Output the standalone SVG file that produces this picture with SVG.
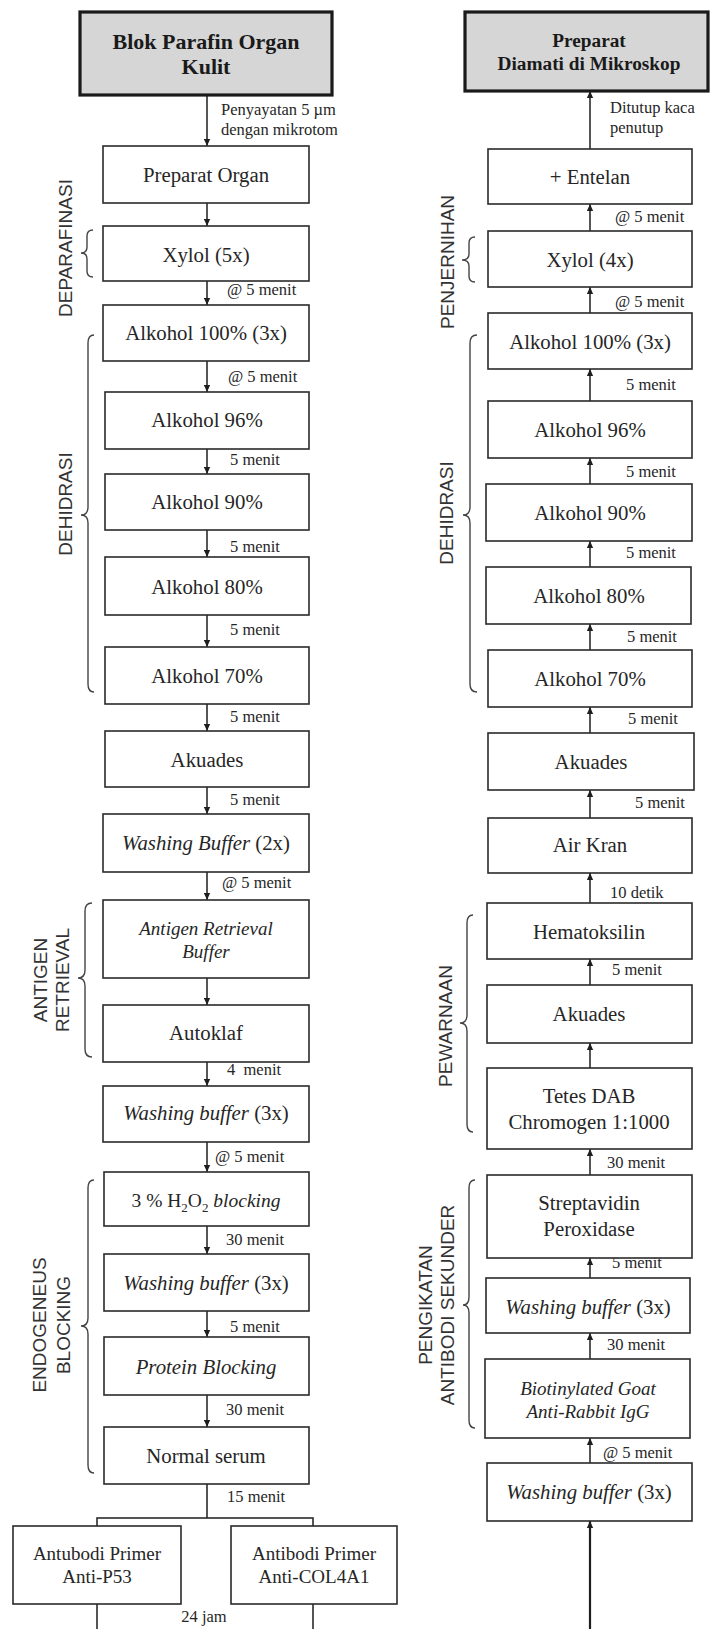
<svg xmlns="http://www.w3.org/2000/svg" width="710" height="1629" viewBox="0 0 710 1629">
<defs>
<style>
.bx{fill:#fff;stroke:#2a2a2a;stroke-width:1.6}
.hd{fill:#d6d6d6;stroke:#1a1a1a;stroke-width:3.2}
.t{font-family:"Liberation Serif","Times New Roman",serif;font-size:20.8px;fill:#262626;text-anchor:middle}
.tb{font-family:"Liberation Serif","Times New Roman",serif;font-size:20px;font-weight:bold;fill:#1a1a1a;text-anchor:middle}
.ti{font-family:"Liberation Serif","Times New Roman",serif;font-size:19px;font-style:italic;fill:#262626;text-anchor:middle}
.s{font-family:"Liberation Serif","Times New Roman",serif;font-size:16.5px;fill:#262626}
.v{font-family:"Liberation Sans",Arial,sans-serif;font-size:19px;fill:#333;text-anchor:middle}
.ln{stroke:#1e1e1e;stroke-width:1.5;fill:none}
.br{stroke:#444;stroke-width:1.4;fill:none}
</style>
<marker id="ah" viewBox="0 0 10 10" refX="10" refY="5" markerWidth="8" markerHeight="7" markerUnits="userSpaceOnUse" orient="auto"><path d="M0,0.5 L10,5 L0,9.5 z" fill="#1e1e1e"/></marker>
</defs>
<rect width="710" height="1629" fill="#fff"/>

<g id="connectors">
<g class="ln" marker-end="url(#ah)">
<line x1="207" y1="95" x2="207" y2="146"/>
<line x1="207" y1="203" x2="207" y2="226"/>
<line x1="207" y1="281" x2="207" y2="305"/>
<line x1="207" y1="361" x2="207" y2="392"/>
<line x1="207" y1="449" x2="207" y2="474"/>
<line x1="207" y1="530" x2="207" y2="557"/>
<line x1="207" y1="615" x2="207" y2="647"/>
<line x1="207" y1="704" x2="207" y2="731"/>
<line x1="207" y1="787" x2="207" y2="814"/>
<line x1="207" y1="872" x2="207" y2="900"/>
<line x1="207" y1="978" x2="207" y2="1005"/>
<line x1="207" y1="1062" x2="207" y2="1086"/>
<line x1="207" y1="1142" x2="207" y2="1172"/>
<line x1="207" y1="1226" x2="207" y2="1254"/>
<line x1="207" y1="1311" x2="207" y2="1337"/>
<line x1="207" y1="1395" x2="207" y2="1427"/>
<line x1="590" y1="149" x2="590" y2="91"/>
<line x1="590" y1="231" x2="590" y2="204"/>
<line x1="590" y1="313" x2="590" y2="287"/>
<line x1="590" y1="401" x2="590" y2="369"/>
<line x1="590" y1="484" x2="590" y2="458"/>
<line x1="590" y1="567" x2="590" y2="541"/>
<line x1="590" y1="650" x2="590" y2="624"/>
<line x1="590" y1="733" x2="590" y2="707"/>
<line x1="590" y1="818" x2="590" y2="790"/>
<line x1="590" y1="903" x2="590" y2="873"/>
<line x1="590" y1="985" x2="590" y2="959"/>
<line x1="590" y1="1068" x2="590" y2="1043"/>
<line x1="590" y1="1175" x2="590" y2="1149"/>
<line x1="590" y1="1278" x2="590" y2="1258"/>
<line x1="590" y1="1359" x2="590" y2="1333"/>
<line x1="590" y1="1463" x2="590" y2="1438"/>
<line x1="590" y1="1629" x2="590" y2="1521" stroke-width="2.2"/>
</g>
<path class="ln" d="M207,1484 V1518 M97,1526 V1518 H313 V1526 M97,1604 V1629 M313,1604 V1629"/>
</g>

<g id="braces" class="br">
<path d="M93,230 Q87,230 87,236 L87,247 Q87,253 81,253 Q87,253 87,259 L87,271 Q87,277 93,277"/>
<path d="M94,335 Q88,335 88,343 L88,507 Q88,515 81,515 Q88,515 88,523 L88,684 Q88,692 94,692"/>
<path d="M92,903 Q85,903 85,911 L85,970 Q85,978 78,978 Q85,978 85,986 L85,1049 Q85,1057 92,1057"/>
<path d="M94,1180 Q88,1180 88,1188 L88,1318 Q88,1326 81,1326 Q88,1326 88,1334 L88,1465 Q88,1473 94,1473"/>
<path d="M475,237 Q469,237 469,243 L469,254 Q469,260 462,260 Q469,260 469,266 L469,276 Q469,282 475,282"/>
<path d="M477,335 Q470,335 470,343 L470,507 Q470,515 463,515 Q470,515 470,523 L470,684 Q470,692 477,692"/>
<path d="M473,915 Q467,915 467,923 L467,1015 Q467,1023 460,1023 Q467,1023 467,1031 L467,1124 Q467,1132 473,1132"/>
<path d="M475,1180 Q469,1180 469,1188 L469,1297 Q469,1305 463,1305 Q469,1305 469,1313 L469,1420 Q469,1428 475,1428"/>
</g>

<g id="side-labels" class="v">
<text transform="translate(72,248) rotate(-90)">DEPARAFINASI</text>
<text transform="translate(72,504) rotate(-90)">DEHIDRASI</text>
<text transform="translate(47,980) rotate(-90)">ANTIGEN</text>
<text transform="translate(69,980) rotate(-90)">RETRIEVAL</text>
<text transform="translate(46,1325) rotate(-90)">ENDOGENEUS</text>
<text transform="translate(70,1325) rotate(-90)">BLOCKING</text>
<text transform="translate(454,262) rotate(-90)">PENJERNIHAN</text>
<text transform="translate(453,513) rotate(-90)">DEHIDRASI</text>
<text transform="translate(452,1026) rotate(-90)">PEWARNAAN</text>
<text transform="translate(432,1305) rotate(-90)">PENGIKATAN</text>
<text transform="translate(454,1305) rotate(-90)">ANTIBODI SEKUNDER</text>
</g>

<g id="edge-labels" class="s">
<text x="221" y="115">Penyayatan 5 µm</text>
<text x="221" y="135">dengan mikrotom</text>
<text x="227" y="295">@ 5 menit</text>
<text x="228" y="382">@ 5 menit</text>
<text x="230" y="465">5 menit</text>
<text x="230" y="552">5 menit</text>
<text x="230" y="635">5 menit</text>
<text x="230" y="722">5 menit</text>
<text x="230" y="805">5 menit</text>
<text x="222" y="888">@ 5 menit</text>
<text x="227" y="1075" xml:space="preserve">4  menit</text>
<text x="215" y="1162">@ 5 menit</text>
<text x="226" y="1245">30 menit</text>
<text x="230" y="1332">5 menit</text>
<text x="226" y="1415">30 menit</text>
<text x="227" y="1502">15 menit</text>
<text x="204" y="1622" style="text-anchor:middle">24 jam</text>
<text x="610" y="113">Ditutup kaca</text>
<text x="610" y="133">penutup</text>
<text x="615" y="222">@ 5 menit</text>
<text x="615" y="307">@ 5 menit</text>
<text x="626" y="390">5 menit</text>
<text x="626" y="477">5 menit</text>
<text x="626" y="558">5 menit</text>
<text x="627" y="642">5 menit</text>
<text x="628" y="724">5 menit</text>
<text x="635" y="808">5 menit</text>
<text x="610" y="898">10 detik</text>
<text x="612" y="975">5 menit</text>
<text x="607" y="1168">30 menit</text>
<text x="612" y="1268">5 menit</text>
<text x="607" y="1350">30 menit</text>
<text x="603" y="1458">@ 5 menit</text>
</g>

<g id="n-blok"><rect class="hd" x="80" y="12" width="252" height="83"/><text class="tb" x="206" y="49" style="font-size:22px">Blok Parafin Organ</text><text class="tb" x="206" y="74" style="font-size:22px">Kulit</text></g>
<g id="n-preparat-organ"><rect class="bx" x="103" y="146" width="206" height="57"/><text class="t" x="206" y="182">Preparat Organ</text></g>
<g id="n-xylol5"><rect class="bx" x="103" y="226" width="206" height="55"/><text class="t" x="206" y="262">Xylol (5x)</text></g>
<g id="n-alk100"><rect class="bx" x="103" y="305" width="206" height="56"/><text class="t" x="206" y="340">Alkohol 100% (3x)</text></g>
<g id="n-alk96"><rect class="bx" x="105" y="392" width="204" height="57"/><text class="t" x="207" y="427">Alkohol 96%</text></g>
<g id="n-alk90"><rect class="bx" x="105" y="474" width="204" height="56"/><text class="t" x="207" y="509">Alkohol 90%</text></g>
<g id="n-alk80"><rect class="bx" x="105" y="557" width="204" height="58"/><text class="t" x="207" y="594">Alkohol 80%</text></g>
<g id="n-alk70"><rect class="bx" x="105" y="647" width="204" height="57"/><text class="t" x="207" y="683">Alkohol 70%</text></g>
<g id="n-akuades"><rect class="bx" x="105" y="731" width="204" height="56"/><text class="t" x="207" y="767">Akuades</text></g>
<g id="n-wb2"><rect class="bx" x="103" y="814" width="206" height="58"/><text class="t" x="206" y="850"><tspan font-style="italic">Washing Buffer</tspan> (2x)</text></g>
<g id="n-arb"><rect class="bx" x="103" y="900" width="206" height="78"/><text class="ti" x="206" y="935">Antigen Retrieval</text><text class="ti" x="206" y="958">Buffer</text></g>
<g id="n-autoklaf"><rect class="bx" x="103" y="1005" width="206" height="57"/><text class="t" x="206" y="1040">Autoklaf</text></g>
<g id="n-wb3a"><rect class="bx" x="103" y="1086" width="206" height="56"/><text class="t" x="206" y="1120"><tspan font-style="italic">Washing buffer</tspan> (3x)</text></g>
<g id="n-h2o2"><rect class="bx" x="104" y="1172" width="205" height="54"/><text class="t" x="206" y="1207" style="font-size:19.5px">3 % H<tspan font-size="13" dy="5">2</tspan><tspan dy="-5">O</tspan><tspan font-size="13" dy="5">2</tspan><tspan dy="-5" font-style="italic"> blocking</tspan></text></g>
<g id="n-wb3b"><rect class="bx" x="104" y="1254" width="205" height="57"/><text class="t" x="206" y="1290"><tspan font-style="italic">Washing buffer</tspan> (3x)</text></g>
<g id="n-protein"><rect class="bx" x="104" y="1337" width="205" height="58"/><text class="t" x="206" y="1374" style="font-style:italic">Protein Blocking</text></g>
<g id="n-normal"><rect class="bx" x="104" y="1427" width="205" height="57"/><text class="t" x="206" y="1463">Normal serum</text></g>
<g id="n-p53"><rect class="bx" x="13" y="1526" width="168" height="78"/><text class="t" x="97" y="1560" style="font-size:19px">Antubodi Primer</text><text class="t" x="97" y="1583" style="font-size:19px">Anti-P53</text></g>
<g id="n-col4a1"><rect class="bx" x="231" y="1526" width="166" height="78"/><text class="t" x="314" y="1560" style="font-size:19px">Antibodi Primer</text><text class="t" x="314" y="1583" style="font-size:19px">Anti-COL4A1</text></g>

<g id="n-mikroskop"><rect class="hd" x="465" y="12" width="243" height="79"/><text class="tb" x="589" y="47" style="font-size:19.3px">Preparat</text><text class="tb" x="589" y="70" style="font-size:19.3px">Diamati di Mikroskop</text></g>
<g id="n-entelan"><rect class="bx" x="488" y="149" width="204" height="55"/><text class="t" x="590" y="184">+ Entelan</text></g>
<g id="n-xylol4"><rect class="bx" x="488" y="231" width="204" height="56"/><text class="t" x="590" y="267">Xylol (4x)</text></g>
<g id="n-alk100r"><rect class="bx" x="488" y="313" width="204" height="56"/><text class="t" x="590" y="349">Alkohol 100% (3x)</text></g>
<g id="n-alk96r"><rect class="bx" x="488" y="401" width="204" height="57"/><text class="t" x="590" y="437">Alkohol 96%</text></g>
<g id="n-alk90r"><rect class="bx" x="486" y="484" width="206" height="57"/><text class="t" x="590" y="520">Alkohol 90%</text></g>
<g id="n-alk80r"><rect class="bx" x="486" y="567" width="205" height="57"/><text class="t" x="589" y="603">Alkohol 80%</text></g>
<g id="n-alk70r"><rect class="bx" x="488" y="650" width="204" height="57"/><text class="t" x="590" y="686">Alkohol 70%</text></g>
<g id="n-akuadesr"><rect class="bx" x="488" y="733" width="206" height="57"/><text class="t" x="591" y="769">Akuades</text></g>
<g id="n-airkran"><rect class="bx" x="488" y="818" width="204" height="55"/><text class="t" x="590" y="852">Air Kran</text></g>
<g id="n-hemato"><rect class="bx" x="487" y="903" width="205" height="56"/><text class="t" x="589" y="939">Hematoksilin</text></g>
<g id="n-akuades2"><rect class="bx" x="487" y="985" width="205" height="58"/><text class="t" x="589" y="1021">Akuades</text></g>
<g id="n-dab"><rect class="bx" x="487" y="1068" width="205" height="81"/><text class="t" x="589" y="1103">Tetes DAB</text><text class="t" x="589" y="1129">Chromogen 1:1000</text></g>
<g id="n-strep"><rect class="bx" x="487" y="1175" width="205" height="83"/><text class="t" x="589" y="1210">Streptavidin</text><text class="t" x="589" y="1236">Peroxidase</text></g>
<g id="n-wb3r1"><rect class="bx" x="486" y="1278" width="204" height="55"/><text class="t" x="588" y="1314"><tspan font-style="italic">Washing buffer</tspan> (3x)</text></g>
<g id="n-biot"><rect class="bx" x="485" y="1359" width="205" height="79"/><text class="ti" x="588" y="1395">Biotinylated Goat</text><text class="ti" x="588" y="1418">Anti-Rabbit IgG</text></g>
<g id="n-wb3r2"><rect class="bx" x="487" y="1463" width="205" height="58"/><text class="t" x="589" y="1499"><tspan font-style="italic">Washing buffer</tspan> (3x)</text></g>
</svg>
